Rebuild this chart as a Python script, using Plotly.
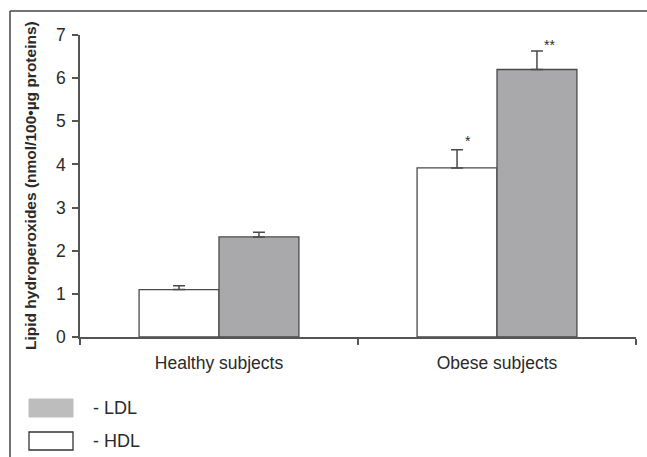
import plotly.graph_objects as go

categories = ["Healthy subjects", "Obese subjects"]
hdl_values = [1.10, 3.92]
hdl_errors = [0.09, 0.42]
ldl_values = [2.32, 6.20]
ldl_errors = [0.11, 0.43]
y_ticks = [0, 1, 2, 3, 4, 5, 6, 7]
hdl_marks = ["", "*"]
ldl_marks = ["", "**"]

FONT = "Liberation Sans, Arial, sans-serif"
TXT = "#2a2a2a"
AX = "#555555"

fig = go.Figure()
fig.add_trace(go.Bar(
    name="HDL", x=categories, y=hdl_values,
    marker=dict(color="white", line=dict(color="#4a4a4a", width=1.3)),
    error_y=dict(type="data", array=hdl_errors, arrayminus=[0, 0], symmetric=False,
                 color="#4a4a4a", thickness=1.5, width=6),
))
fig.add_trace(go.Bar(
    name="LDL", x=categories, y=ldl_values,
    marker=dict(color="#a9a9ab", line=dict(color="#4a4a4a", width=1.3)),
    error_y=dict(type="data", array=ldl_errors, arrayminus=[0, 0], symmetric=False,
                 color="#4a4a4a", thickness=1.5, width=6),
))

# significance marks
for cat, v, e, m in zip(categories, hdl_values, hdl_errors, hdl_marks):
    if m:
        fig.add_annotation(x=cat, y=v + e, text=m, showarrow=False, xshift=-29,
                           yanchor="bottom", yshift=-1,
                           font=dict(family=FONT, size=14, color=TXT))
for cat, v, e, m in zip(categories, ldl_values, ldl_errors, ldl_marks):
    if m:
        fig.add_annotation(x=cat, y=v + e, text=m, showarrow=False, xshift=52,
                           yanchor="bottom", yshift=-4,
                           font=dict(family=FONT, size=14, color=TXT))

W, H = 647, 457
L, R, T, B = 80, 11, 35, 120
pw, ph = W - L - R, H - T - B

def px(x):
    return (x - L) / pw

def py(y):
    return (H - B - y) / ph

# frame (top and left border)
fig.add_shape(type="line", xref="paper", yref="paper", x0=px(10), x1=px(W + 5),
              y0=py(11), y1=py(11), line=dict(color="#444444", width=1.5))
fig.add_shape(type="line", xref="paper", yref="paper", x0=px(10), x1=px(10),
              y0=py(11), y1=py(H + 5), line=dict(color="#444444", width=1.5))

# legend
fig.add_shape(type="rect", xref="paper", yref="paper", x0=px(29), x1=px(73),
              y0=py(399), y1=py(417), fillcolor="#bdbdbd", line=dict(color="#bdbdbd", width=1))
fig.add_shape(type="rect", xref="paper", yref="paper", x0=px(29), x1=px(73),
              y0=py(432), y1=py(450), fillcolor="white", line=dict(color="#333333", width=1.3))
fig.add_annotation(xref="paper", yref="paper", x=px(91), y=py(408), text="- LDL",
                   showarrow=False, xanchor="left", yanchor="middle",
                   font=dict(family=FONT, size=18, color=TXT))
fig.add_annotation(xref="paper", yref="paper", x=px(91), y=py(441), text="- HDL",
                   showarrow=False, xanchor="left", yanchor="middle",
                   font=dict(family=FONT, size=18, color=TXT))

# y-axis title
fig.add_annotation(xref="paper", yref="paper", x=px(30), y=0.5, textangle=-90,
                   text="<b>Lipid hydroperoxides (nmol/100•µg proteins)</b>",
                   showarrow=False, xanchor="center", yanchor="middle",
                   font=dict(family=FONT, size=15.5, color=TXT))

fig.update_layout(
    width=W, height=H,
    margin=dict(l=L, r=R, t=T, b=B),
    paper_bgcolor="white", plot_bgcolor="white",
    barmode="group", bargap=0.425, bargroupgap=0,
    showlegend=False,
    font=dict(family=FONT, color=TXT),
)
fig.update_xaxes(
    showline=True, linecolor=AX, linewidth=1.5,
    ticks="outside", tickson="boundaries", ticklen=6, tickcolor=AX, tickwidth=1.5,
    tickfont=dict(family=FONT, size=17.5, color=TXT), showgrid=False,
    ticklabelstandoff=9,
)
fig.update_yaxes(
    range=[0, 7], tickvals=y_ticks, showline=True, linecolor=AX, linewidth=1.5,
    ticks="outside", ticklen=6, tickcolor=AX, tickwidth=1.5,
    tickfont=dict(family=FONT, size=17.5, color=TXT), showgrid=False, zeroline=False,
    ticklabelstandoff=3,
)

fig.write_html("out.html", config={"displayModeBar": False},
               post_script="document.body.style.margin='0';")
